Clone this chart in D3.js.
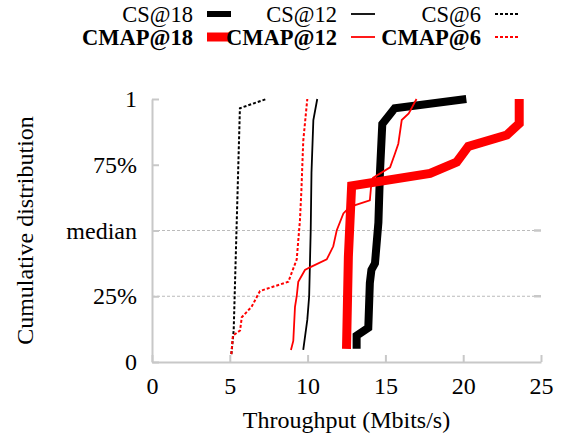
<!doctype html>
<head>
  <meta charset="utf-8">
  <script src="https://cdnjs.cloudflare.com/ajax/libs/d3/7.8.2/d3.min.js"></script>
</head>
<style>
    body { margin: 0; background: white; }
    svg text { font-family: "Liberation Serif", "Times New Roman", serif; fill: black; }
</style>
<body>
<div id="chart"></div>
<script>
    // CDF points [throughput Mbit/s, cumulative fraction]
    const cs18 = [[13.15, 0.05], [13.15, 0.10], [13.9, 0.13], [14.0, 0.30], [14.1, 0.35], [14.33, 0.375],
                  [14.55, 0.53], [14.65, 0.72], [14.8, 0.905], [15.6, 0.965], [20.2, 1.0]];
    const cmap18 = [[12.5, 0.05], [12.62, 0.40], [12.83, 0.67], [17.87, 0.717], [19.58, 0.76],
                    [20.33, 0.82], [22.8, 0.863], [23.6, 0.907], [23.6, 1.0]];
    const cs12 = [[9.72, 0.046], [9.98, 0.16], [10.1, 0.25], [10.2, 0.50], [10.25, 0.72], [10.37, 0.92], [10.62, 1.0]];
    const cmap12 = [[8.93, 0.046], [9.08, 0.08], [9.19, 0.21], [9.30, 0.25], [9.40, 0.305], [9.83, 0.35],
                    [10.15, 0.36], [11.23, 0.39], [11.65, 0.44], [11.87, 0.50], [12.3, 0.565], [12.72, 0.59],
                    [14.0, 0.615], [14.1, 0.68], [14.2, 0.70], [15.3, 0.74], [15.6, 0.79], [15.83, 0.83],
                    [16.05, 0.92], [16.5, 0.945], [17.0, 1.0]];
    const cs6 = [[5.1, 0.03], [5.25, 0.12], [5.65, 0.965], [7.35, 1.0]];
    const cmap6 = [[5.1, 0.03], [5.2, 0.10], [5.66, 0.12], [5.77, 0.17], [6.4, 0.21], [6.94, 0.27],
                   [8.76, 0.305], [9.3, 0.39], [9.51, 0.54], [9.6, 0.65], [9.72, 0.84], [9.98, 1.0]];

    const xTicks = [0, 5, 10, 15, 20, 25];
    const yTicks = [0, 0.25, 0.5, 0.75, 1];
    const yTickLabels = ["0", "25%", "median", "75%", "1"];
    const gridValues = [0.25, 0.5];

    const series = [
        {name: "CS@18", data: cs18, color: "black", width: 8, dash: null, bold: false},
        {name: "CMAP@18", data: cmap18, color: "red", width: 9, dash: null, bold: true},
        {name: "CS@12", data: cs12, color: "black", width: 1.8, dash: null, bold: false},
        {name: "CMAP@12", data: cmap12, color: "red", width: 1.8, dash: null, bold: true},
        {name: "CS@6", data: cs6, color: "black", width: 2, dash: "3,2", bold: false},
        {name: "CMAP@6", data: cmap6, color: "red", width: 2, dash: "3,2", bold: true},
    ];

    const width = 573, height = 438;
    const svg = d3.select("#chart").append("svg")
        .attr("width", width).attr("height", height);

    const x = d3.scaleLinear().domain([0, 25]).range([152, 541]);
    const y = d3.scaleLinear().domain([0, 1]).range([362, 99]);
    const axisColor = "#c8c8c8";

    // gridlines
    svg.selectAll(".grid").data(gridValues).enter().append("line")
        .attr("x1", x(0)).attr("x2", x(25))
        .attr("y1", d => y(d)).attr("y2", d => y(d))
        .attr("stroke", "#bbb").attr("stroke-width", 1).attr("stroke-dasharray", "3,2");
    svg.selectAll(".rtick").data(gridValues).enter().append("line")
        .attr("x1", x(25) - 7).attr("x2", x(25))
        .attr("y1", d => y(d)).attr("y2", d => y(d))
        .attr("stroke", axisColor).attr("stroke-width", 2.5);

    // axes
    const xAxis = svg.append("g").attr("transform", `translate(0,${y(0)})`)
        .call(d3.axisBottom(x).tickValues(xTicks).tickSizeInner(-7).tickSizeOuter(0).tickPadding(15));
    const yAxis = svg.append("g").attr("transform", `translate(${x(0)},0)`)
        .call(d3.axisLeft(y).tickValues(yTicks).tickFormat((d, i) => yTickLabels[i])
            .tickSizeInner(-7).tickSizeOuter(0).tickPadding(15));
    [xAxis, yAxis].forEach(a => {
        a.select(".domain").attr("stroke", axisColor).attr("stroke-width", 2);
        a.selectAll(".tick line").attr("stroke", axisColor).attr("stroke-width", 2);
        a.selectAll(".tick text").style("font-size", "24px").style("font-family", "Liberation Serif");
    });

    // lines
    const line = d3.line().x(d => x(d[0])).y(d => y(d[1]));
    svg.selectAll(".series").data(series).enter().append("path")
        .attr("d", d => line(d.data))
        .attr("fill", "none")
        .attr("stroke", d => d.color)
        .attr("stroke-width", d => d.width)
        .attr("stroke-dasharray", d => d.dash);

    // axis titles
    svg.append("text").attr("x", x(12.5)).attr("y", 428)
        .attr("text-anchor", "middle").style("font-size", "24px")
        .text("Throughput (Mbits/s)");
    svg.append("text").attr("transform", `translate(33,${y(0.5)}) rotate(-90)`)
        .attr("text-anchor", "middle").style("font-size", "24px")
        .text("Cumulative distribution");

    // legend
    const legend = svg.selectAll(".legend").data(series).enter().append("g")
        .attr("transform", (d, i) => `translate(${193 + Math.floor(i / 2) * 144},${i % 2 === 0 ? 22 : 45})`);
    legend.append("text").attr("text-anchor", "end")
        .style("font-size", "22.5px").style("font-weight", d => d.bold ? "bold" : "normal")
        .text(d => d.name);
    legend.append("line")
        .attr("x1", 14).attr("x2", 38).attr("y1", -8).attr("y2", -8)
        .attr("stroke", d => d.color)
        .attr("stroke-width", d => d.width === 8 ? 6 : d.width)
        .attr("stroke-dasharray", d => d.dash);
</script>
</body>
